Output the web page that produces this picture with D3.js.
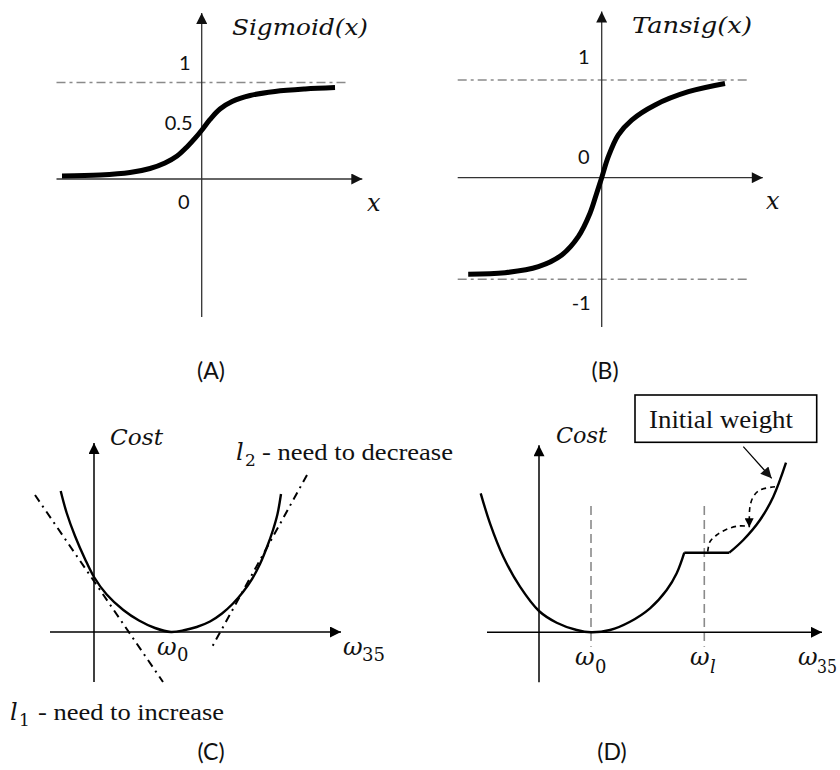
<!DOCTYPE html>
<html><head><meta charset="utf-8">
<script src="https://cdn.jsdelivr.net/npm/d3@7"></script>
<style>body{margin:0;background:#fff}svg{display:block}</style>
</head><body><svg id="c" width="840" height="770"></svg>
<script>
// ---------- Panel A: Sigmoid ----------
const sigX = [-6.35,-4.62,-3.26,-2.35,-1.67,-1.12,-0.67,-0.31,0.01,0.38,0.83,1.38,2.2,3.33,4.7,6.06];
const sigY = [0.031,0.041,0.067,0.109,0.166,0.238,0.332,0.42,0.508,0.617,0.725,0.803,0.865,0.907,0.933,0.948];
const sigTickVals = [1,0.5,0];
const sigTickLabels = ["1","0.5","0"];
// ---------- Panel B: Tansig ----------
const tanX = [-4.45,-3.22,-2.11,-1.33,-0.78,-0.39,-0.17,0,0.22,0.55,1.0,1.78,2.89,4.11];
const tanY = [-0.95,-0.935,-0.875,-0.76,-0.58,-0.35,-0.155,0,0.215,0.437,0.59,0.745,0.88,0.965];
const tanTickVals = [1,0,-1];
const tanTickLabels = ["1","0","-1"];
// ---------- Panel C: cost with tangents ----------
const costCX = [-3.33,-2.73,-1.9,-0.9,0,1.27,2.93,4.5,6.1,7.7,9.1,10.27,11.6,12.8,13.9,14.9,15.8,16.6,17.3,17.9,18.35,18.7];
const costCY = [14.1,11.9,9.6,7.3,5.5,3.75,2.2,1.15,0.4,0,0.2,0.5,1.05,1.85,2.85,4.0,5.3,6.8,8.5,10.2,11.8,13.8];
const l1X = [-5.9,6.9], l1Y = [13.7,-5.0];
const l2X = [21.3,11.8], l2Y = [15.7,-1.5];
// ---------- Panel D: cost with plateau ----------
const costDLeftX = [-5.83,-4.9,-3.57,-1.9,0,1.77,3.77,5.2,7.1,9.1,11.1,12.77,13.77,14.53];
const costDLeftY = [13.9,10.9,7.56,4.56,2.13,0.96,0.23,0,0.23,1.06,2.4,4.23,5.9,7.96];
const costDFlatX = [14.53,19.03], costDFlatY = [7.96,7.96];
const costDRightX = [19.03,20.43,22.1,23.43,24.7];
const costDRightY = [7.96,9.23,11.23,13.56,16.96];
const omegaMarks = [5.2,16.53];
const arcAX = [23.6,22.1,21.43,21.1,21.03,21.03], arcAY = [14.56,14.23,13.56,12.56,11.23,10.5];
const arcBX = [16.87,17.1,17.77,18.77,19.93,20.7], arcBY = [8.06,9.06,9.73,10.3,10.63,10.63];

const svg = d3.select("#c");
svg.append("rect").attr("width",840).attr("height",770).attr("fill","#fff");
const defs = svg.append("defs");
function marker(id, w, h, color){
  defs.append("marker").attr("id",id).attr("viewBox","0 0 10 10")
    .attr("refX",10).attr("refY",5).attr("markerUnits","userSpaceOnUse")
    .attr("markerWidth",w).attr("markerHeight",h).attr("orient","auto")
    .append("path").attr("d","M0,0L10,5L0,10Z").attr("fill",color);
}
marker("arrA",13,11,"#111");
marker("arrC",13,11,"#000");
marker("arrS",10,9,"#000");

const MATH = "'DejaVu Serif', serif";
const SANS = "Lato, 'Open Sans', sans-serif";
const TIMES = "'Liberation Serif', 'Times New Roman', serif";

function axisLine(g, x1,y1,x2,y2, color, w, mk){
  const l = g.append("line").attr("x1",x1).attr("y1",y1).attr("x2",x2).attr("y2",y2)
    .attr("stroke",color).attr("stroke-width",w);
  if(mk) l.attr("marker-end",`url(#${mk})`);
  return l;
}
function txt(x,y,s,font,size,opts={}){
  const t = svg.append("text").attr("x",x).attr("y",y).text(s)
    .attr("font-family",font).attr("font-size",size).attr("fill","#111");
  if(opts.italic) t.attr("font-style","italic");
  if(opts.anchor) t.attr("text-anchor",opts.anchor);
  if(opts.len) t.attr("textLength",opts.len).attr("lengthAdjust","spacingAndGlyphs");
  return t;
}
const zipXY = (X,Y)=>X.map((x,i)=>[x,Y[i]]);
const smooth = d3.curveCatmullRom.alpha(0.5);

// ===== Panel A =====
{
  const x = d3.scaleLinear().domain([0,1]).range([201.7,223.7]);
  const y = d3.scaleLinear().domain([0,1]).range([179,82.5]);
  const g = svg.append("g");
  g.append("line").attr("x1",x(-6.6)).attr("x2",x(6.6)).attr("y1",y(1)).attr("y2",y(1))
    .attr("stroke","#8a8a8a").attr("stroke-width",1.6).attr("stroke-dasharray","9,4,3,4");
  axisLine(g, x(-6.6), y(0), x(7.3), y(0), "#333", 1.3, "arrA");
  axisLine(g, x(0), y(-1.43), x(0), y(1.72), "#333", 1.3, "arrA");
  const line = d3.line().x(d=>x(d[0])).y(d=>y(d[1])).curve(smooth);
  g.append("path").attr("d",line(zipXY(sigX,sigY))).attr("fill","none")
    .attr("stroke","#000").attr("stroke-width",5);
  const offs = [[-11,-13],[-9,-1],[-12,30]];
  sigTickVals.forEach((v,i)=>{
    txt(x(0)+offs[i][0], y(v)+offs[i][1], sigTickLabels[i], SANS, 20, {anchor:"end"});
  });
  txt(232,35,"Sigmoid(x)",MATH,22,{italic:true,len:136});
  txt(367,211,"x",MATH,24,{italic:true});
  txt(211,379,"(A)",SANS,23,{anchor:"middle"});
}
// ===== Panel B =====
{
  const x = d3.scaleLinear().domain([0,1]).range([601.7,631.7]);
  const y = d3.scaleLinear().domain([-1,0,1]).range([279.3,177.7,80]);
  const g = svg.append("g");
  [1,-1].forEach(v=>{
    g.append("line").attr("x1",x(-4.8)).attr("x2",x(4.9)).attr("y1",y(v)).attr("y2",y(v))
      .attr("stroke","#8a8a8a").attr("stroke-width",1.6).attr("stroke-dasharray","9,4,3,4");
  });
  axisLine(g, x(-4.8), y(0), x(5.37), y(0), "#333", 1.3, "arrA");
  axisLine(g, x(0), y(-1.47), x(0), y(1.70), "#333", 1.3, "arrA");
  const line = d3.line().x(d=>x(d[0])).y(d=>y(d[1])).curve(smooth);
  g.append("path").attr("d",line(zipXY(tanX,tanY))).attr("fill","none")
    .attr("stroke","#000").attr("stroke-width",5);
  const offs = [[-12,-16],[-12,-14],[-11,31]];
  tanTickVals.forEach((v,i)=>{
    txt(x(0)+offs[i][0], y(v)+offs[i][1], tanTickLabels[i], SANS, 20, {anchor:"end"});
  });
  txt(632,33,"Tansig(x)",MATH,22,{italic:true,len:120});
  txt(766,209,"x",MATH,24,{italic:true});
  txt(605,379,"(B)",SANS,23,{anchor:"middle"});
}
// ===== Panel C =====
{
  const x = d3.scaleLinear().domain([0,1]).range([94,104]);
  const y = d3.scaleLinear().domain([0,1]).range([632,622]);
  const g = svg.append("g");
  axisLine(g, x(-4.4), y(0), x(24.7), y(0), "#000", 1.5, "arrC");
  axisLine(g, x(0), y(-5), x(0), y(18.9), "#000", 1.5, "arrC");
  const line = d3.line().x(d=>x(d[0])).y(d=>y(d[1])).curve(smooth);
  g.append("path").attr("d",line(zipXY(costCX,costCY))).attr("fill","none")
    .attr("stroke","#000").attr("stroke-width",2.4);
  const sl = d3.line().x(d=>x(d[0])).y(d=>y(d[1]));
  [[l1X,l1Y],[l2X,l2Y]].forEach(([X,Y])=>{
    g.append("path").attr("d",sl(zipXY(X,Y))).attr("fill","none")
      .attr("stroke","#000").attr("stroke-width",2).attr("stroke-dasharray","8,5,2,5");
  });
  txt(110,445,"Cost",MATH,23,{italic:true,len:53});
  txt(236,460,"l",MATH,24,{italic:true});
  txt(245,466,"2",MATH,17);
  txt(262,460,"- need to decrease",TIMES,24,{len:191});
  txt(10,720,"l",MATH,24,{italic:true});
  txt(19,726,"1",MATH,17);
  txt(38,720,"- need to increase",TIMES,24,{len:186});
  txt(157,655,"ω",MATH,24,{italic:true});
  txt(177,661,"0",MATH,18);
  txt(343,655,"ω",MATH,24,{italic:true});
  txt(362,661,"35",MATH,18,{len:23});
  txt(211,760,"(C)",SANS,23,{anchor:"middle"});
}
// ===== Panel D =====
{
  const x = d3.scaleLinear().domain([0,1]).range([539,549]);
  const y = d3.scaleLinear().domain([0,1]).range([632.3,622.3]);
  const g = svg.append("g");
  omegaMarks.forEach(v=>{
    g.append("line").attr("x1",x(v)).attr("x2",x(v)).attr("y1",y(12.63)).attr("y2",y(-1.44))
      .attr("stroke","#8a8a8a").attr("stroke-width",1.6).attr("stroke-dasharray","9,5");
  });
  axisLine(g, x(-5.2), y(0), x(28.3), y(0), "#000", 1.5, "arrC");
  axisLine(g, x(0), y(-5), x(0), y(18.7), "#000", 1.5, "arrC");
  const line = d3.line().x(d=>x(d[0])).y(d=>y(d[1])).curve(smooth);
  const sl = d3.line().x(d=>x(d[0])).y(d=>y(d[1]));
  g.append("path").attr("d",line(zipXY(costDLeftX,costDLeftY))).attr("fill","none")
    .attr("stroke","#000").attr("stroke-width",2.4);
  g.append("path").attr("d",sl(zipXY(costDFlatX,costDFlatY))).attr("fill","none")
    .attr("stroke","#000").attr("stroke-width",2.4);
  g.append("path").attr("d",line(zipXY(costDRightX,costDRightY))).attr("fill","none")
    .attr("stroke","#000").attr("stroke-width",2.4);
  g.append("path").attr("d",line(zipXY(arcAX,arcAY))).attr("fill","none")
    .attr("stroke","#000").attr("stroke-width",1.6).attr("stroke-dasharray","5,4")
    .attr("marker-end","url(#arrS)");
  g.append("path").attr("d",line(zipXY(arcBX,arcBY))).attr("fill","none")
    .attr("stroke","#000").attr("stroke-width",1.6).attr("stroke-dasharray","5,4");
  g.append("rect").attr("x",x(9.6)).attr("y",y(23.73)).attr("width",x(27.77)-x(9.6))
    .attr("height",y(19.0)-y(23.73)).attr("fill","#fff").attr("stroke","#000").attr("stroke-width",1.6);
  g.append("line").attr("x1",x(20.43)).attr("y1",y(18.56)).attr("x2",x(23.27)).attr("y2",y(15.4))
    .attr("stroke","#000").attr("stroke-width",1.2).attr("marker-end","url(#arrA)");
  txt(649,428,"Initial weight",TIMES,25,{len:144});
  txt(556,443,"Cost",MATH,23,{italic:true,len:51});
  txt(575,665,"ω",MATH,24,{italic:true});
  txt(595,673,"0",MATH,18);
  txt(690,665,"ω",MATH,24,{italic:true});
  txt(710,673,"l",MATH,18,{italic:true});
  txt(798,665,"ω",MATH,24,{italic:true});
  txt(817,673,"35",MATH,18,{len:20});
  txt(612,760,"(D)",SANS,23,{anchor:"middle"});
}
</script></body></html>
